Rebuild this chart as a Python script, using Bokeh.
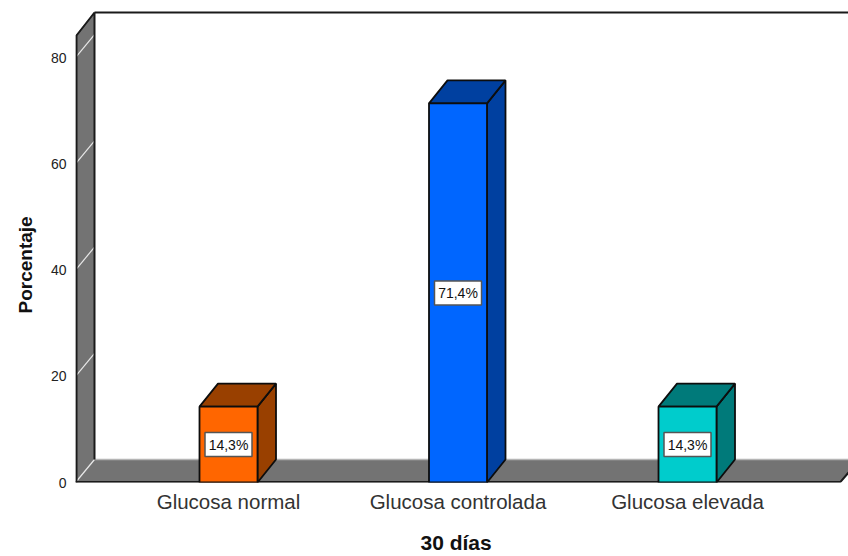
from bokeh.plotting import figure
from bokeh.models import FixedTicker, Title, ColumnDataSource
from bokeh.core.properties import value
from bokeh.embed import file_html
from bokeh.resources import INLINE

# ---- data ----
categories = ["Glucosa normal", "Glucosa controlada", "Glucosa elevada"]
percentages = [14.3, 71.4, 14.3]
data_labels = ["14,3%", "71,4%", "14,3%"]
y_ticks = [0, 20, 40, 60, 80]
front_colors = ["#FF6600", "#0066FF", "#00CCCC"]
shade_colors = ["#994000", "#0040A0", "#007A7A"]

# ---- scale constants (pixels per unit in the reference) ----
PX_X = 229.5
PX_Y = 5.31
DX = 19 / PX_X          # depth of the 3-D box
DY = 23 / PX_Y
BAR_DX = 18.5 / PX_X    # depth of the bars
HALF = 29 / PX_X        # half bar width
WALL = "#737373"
DARK = "#1a1a1a"
FONT = "Liberation Sans"

W, H = 848, 556
LEFT, RIGHT, TOP, BOTTOM = 75, 0, 10, 74
frame_w, frame_h = W - LEFT - RIGHT, H - TOP - BOTTOM
x_start = (LEFT - 228) / PX_X
x_end = x_start + frame_w / PX_X
y_end = frame_h / PX_Y
xs = list(range(len(categories)))

p = figure(width=W, height=H, frame_width=frame_w, frame_height=frame_h,
           x_range=(x_start, x_end), y_range=(0, y_end),
           output_backend="svg", toolbar_location=None,
           min_border_left=LEFT, min_border_right=RIGHT,
           min_border_top=TOP, min_border_bottom=BOTTOM,
           background_fill_color="white",
           border_fill_color="white", outline_line_color=None)
p.grid.visible = False

# axes
p.xaxis.ticker = FixedTicker(ticks=xs)
p.xaxis.major_label_overrides = dict(zip(xs, categories))
p.xaxis.major_label_text_font = FONT
p.xaxis.major_label_text_font_size = "20.5px"
p.xaxis.major_label_text_color = "#333333"
p.xaxis.major_label_standoff = 1
p.yaxis.ticker = FixedTicker(ticks=y_ticks)
p.yaxis.major_label_text_font = FONT
p.yaxis.major_label_text_font_size = "14px"
p.yaxis.major_label_text_color = "#222222"
p.yaxis.major_label_standoff = 3
for ax in (p.xaxis, p.yaxis):
    ax.axis_line_color = None
    ax.major_tick_line_color = None
    ax.minor_tick_line_color = None

# left wall and floor
x0 = x_start
wall_top = y_end - 2 / PX_Y - DY
p.patch([x0, x0 + DX, x0 + DX, x0], [0, DY, wall_top + DY, wall_top], color=WALL, line_color=None)
floor_right = x_end - 8 / PX_X
p.patch([x0, x0 + DX, floor_right + DX, floor_right], [0, DY, DY, 0], color=WALL, line_color=None)

# gridlines on the wall (and along the floor's back edge)
p.segment([x0] * len(y_ticks), y_ticks, [x0 + DX] * len(y_ticks), [t + DY for t in y_ticks],
          line_color="#e8e8e8", line_width=1.2)
p.line([x0 + DX, floor_right + DX], [DY, DY], line_color="#b5b5b5", line_width=1.5)

# box outline
p.line([x0 + 1 / PX_X, x0 + 1 / PX_X, x0 + DX, x0 + DX], [0, wall_top, wall_top + DY, DY], line_color=DARK, line_width=2)
p.line([x0 + DX, x_end], [wall_top + DY, wall_top + DY], line_color=DARK, line_width=2)
p.line([x0, floor_right, floor_right + DX], [0.1, 0.1, DY], line_color=DARK, line_width=2)

# bars
for x, v, front, shade in zip(xs, percentages, front_colors, shade_colors):
    l, r = x - HALF, x + HALF
    ddy = DY
    p.patch([r, r + BAR_DX, r + BAR_DX, r], [0, ddy, v + ddy, v],
            fill_color=shade, line_color="#0d0d0d", line_width=1.8)
    p.patch([l, l + BAR_DX, r + BAR_DX, r], [v, v + ddy, v + ddy, v],
            fill_color=shade, line_color="#0d0d0d", line_width=1.8)
    p.quad(left=l, right=r, bottom=0, top=v, fill_color=front,
           line_color="#0d0d0d", line_width=1.8)

# data labels
src = ColumnDataSource(dict(x=xs, y=[v / 2 for v in percentages], t=data_labels))
p.rect("x", "y", width=47, height=24, width_units="screen", height_units="screen",
       source=src, fill_color="white", line_color="#555555", line_width=1.5)
p.text("x", "y", text="t", source=src, text_align="center", text_baseline="middle",
       text_font=value(FONT), text_font_size="14px", text_color="#111111")

# axis titles
p.add_layout(Title(text="30 días", align="left", offset=345, standoff=27,
                   text_font=FONT, text_font_size="21px", text_font_style="bold",
                   text_color="#111111"), "below")
p.add_layout(Title(text="Porcentaje", align="left", offset=169, standoff=23,
                   text_font=FONT, text_font_size="19px", text_font_style="bold",
                   text_color="#111111"), "left")

open("out.html", "w").write(file_html(p, INLINE))
